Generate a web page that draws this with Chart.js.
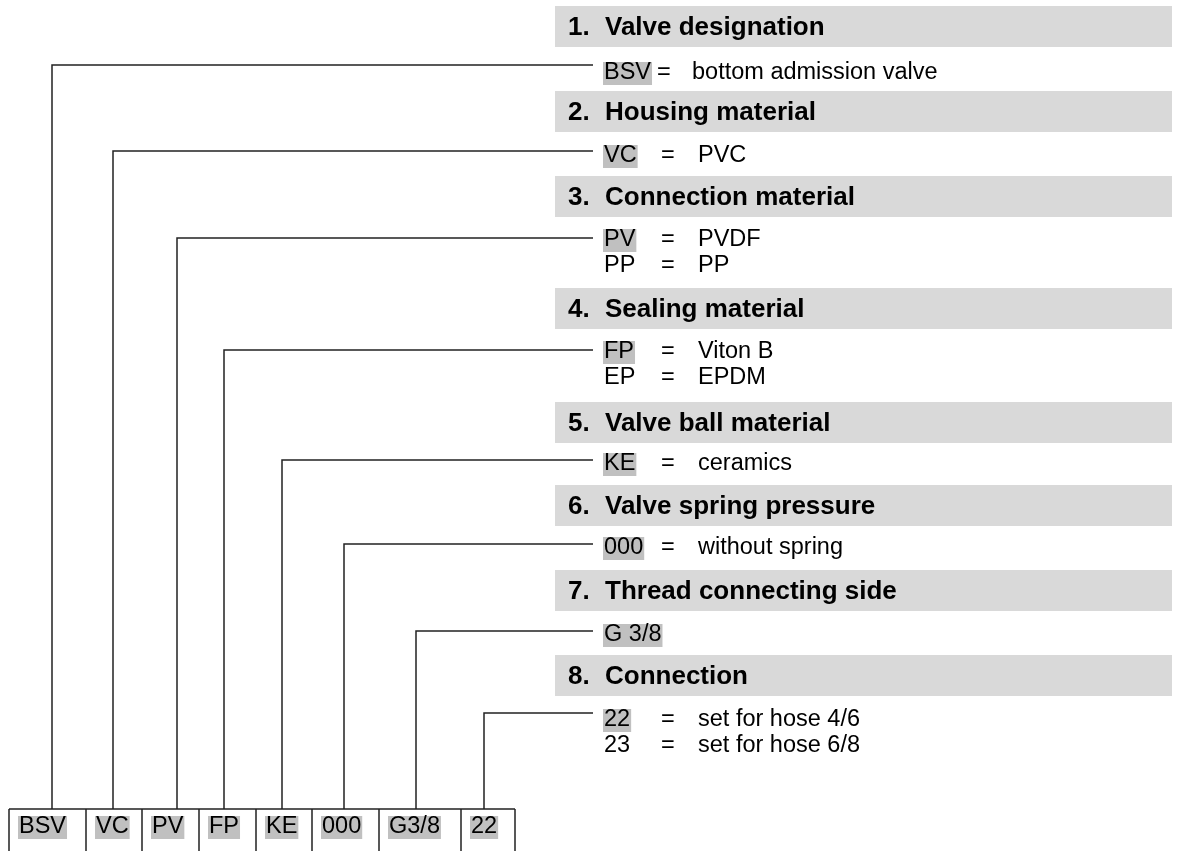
<!DOCTYPE html>
<html>
<head>
<meta charset="utf-8">
<script src="https://cdn.jsdelivr.net/npm/chart.js@4/dist/chart.umd.min.js"></script>
<style>
  html, body { margin: 0; padding: 0; background: #fff; }
  #wrap { width: 1181px; height: 851px; position: relative; }
</style>
</head>
<body>
<div id="wrap"><canvas id="c"></canvas></div>
<script>
// order code parts, one per section
const sectionTitles = [
  'Valve designation',
  'Housing material',
  'Connection material',
  'Sealing material',
  'Valve ball material',
  'Valve spring pressure',
  'Thread connecting side',
  'Connection'
]
const optionCodes = [
  ['BSV'], ['VC'], ['PV', 'PP'], ['FP', 'EP'], ['KE'], ['000'], ['G 3/8'], ['22', '23']
]
const optionTexts = [
  ['bottom admission valve'], ['PVC'], ['PVDF', 'PP'], ['Viton B', 'EPDM'],
  ['ceramics'], ['without spring'], [''], ['set for hose 4/6', 'set for hose 6/8']
]
const orderCode = ['BSV', 'VC', 'PV', 'FP', 'KE', '000', 'G3/8', '22']

// layout (axis units = page pixels)
const headerTop = [6, 91, 176, 288, 402, 485, 570, 655]
const headerH = 41
const lineY = [65, 151, 238, 350, 460, 544, 631, 713]
const textY = [73, 156, 240, 352, 464, 548, 635, 720]
const stemX = [52, 113, 177, 224, 282, 344, 416, 484]
const boxEdges = [9, 86, 142, 199, 256, 312, 379, 461, 515]
const boxTop = 809
const lineEndX = 593

const FONT = '"Liberation Sans", Arial, Helvetica, sans-serif'
const HEAD_GRAY = '#d9d9d9'
const MARK_GRAY = '#c0c0c0'
const INK = '#222'

const datasets = stemX.map((x, i) => ({
  label: sectionTitles[i],
  data: [{x: x, y: boxTop}, {x: x, y: lineY[i]}, {x: lineEndX, y: lineY[i]}],
  showLine: true,
  borderColor: INK,
  borderWidth: 1.5,
  pointRadius: 0,
  tension: 0
}))

function markedText(ctx, txt, x, y){
  const w = ctx.measureText(txt).width
  ctx.fillStyle = MARK_GRAY
  ctx.fillRect(x - 1, y - 11, w + 2, 23)
  ctx.fillStyle = '#000'
  ctx.fillText(txt, x, y)
  return w
}

const sheetPlugin = {
  id: 'sheet',
  beforeDatasetsDraw(chart){
    const ctx = chart.ctx
    const xs = chart.scales.x, ys = chart.scales.y
    ctx.save()
    // section headers
    ctx.fillStyle = HEAD_GRAY
    headerTop.forEach(t => {
      const x0 = xs.getPixelForValue(555), x1 = xs.getPixelForValue(1172)
      const y0 = ys.getPixelForValue(t), y1 = ys.getPixelForValue(t + headerH)
      ctx.fillRect(x0, y0, x1 - x0, y1 - y0)
    })
    ctx.textBaseline = 'middle'
    ctx.font = 'bold 26px ' + FONT
    ctx.fillStyle = '#000'
    sectionTitles.forEach((s, i) => {
      const y = ys.getPixelForValue(headerTop[i] + headerH / 2 + 1)
      ctx.fillText((i + 1) + '.', xs.getPixelForValue(568), y)
      ctx.fillText(s, xs.getPixelForValue(605), y)
    })
    // options
    ctx.font = '23.5px ' + FONT
    optionCodes.forEach((codes, i) => {
      codes.forEach((code, j) => {
        const y = ys.getPixelForValue(textY[i] + j * 26)
        const x = xs.getPixelForValue(604)
        let w
        if (j === 0) w = markedText(ctx, code, x, y)
        else { ctx.fillStyle = '#000'; ctx.fillText(code, x, y); w = ctx.measureText(code).width }
        const desc = optionTexts[i][j]
        if (!desc) return
        ctx.fillStyle = '#000'
        // '=' sits in a tab column unless the code is too wide for it
        let eqX = xs.getPixelForValue(661), dX = xs.getPixelForValue(698)
        if (w > 42) { eqX = x + w + 6; dX = eqX + 35 }
        ctx.fillText('=', eqX, y)
        ctx.fillText(desc, dX, y)
      })
    })
    // order code boxes
    ctx.strokeStyle = INK
    ctx.lineWidth = 1.5
    ctx.beginPath()
    const top = ys.getPixelForValue(boxTop)
    ctx.moveTo(xs.getPixelForValue(boxEdges[0]), top)
    ctx.lineTo(xs.getPixelForValue(boxEdges[boxEdges.length - 1]), top)
    boxEdges.forEach(e => {
      ctx.moveTo(xs.getPixelForValue(e), top)
      ctx.lineTo(xs.getPixelForValue(e), ys.getPixelForValue(860))
    })
    ctx.stroke()
    orderCode.forEach((c, i) => {
      markedText(ctx, c, xs.getPixelForValue(boxEdges[i] + 10), ys.getPixelForValue(827))
    })
    ctx.restore()
  }
}

new Chart(document.getElementById('c'), {
  type: 'scatter',
  data: {datasets: datasets},
  options: {
    responsive: true,
    maintainAspectRatio: false,
    animation: false,
    layout: {padding: 0},
    scales: {
      x: {type: 'linear', min: 0, max: 1181, display: false},
      y: {type: 'linear', min: 0, max: 851, reverse: true, display: false}
    },
    plugins: {legend: {display: false}, tooltip: {enabled: false}}
  },
  plugins: [sheetPlugin]
})
</script>
</body>
</html>
